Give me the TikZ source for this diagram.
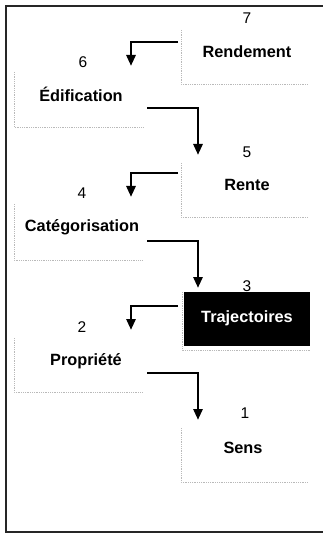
\documentclass[tikz,border=0pt]{standalone}
\usepackage{fontspec}
\setmainfont{Liberation Sans}
\usetikzlibrary{arrows.meta,calc}
\begin{document}
\begin{tikzpicture}[x=1pt,y=-1pt,
  box/.style={inner sep=0pt,outer sep=0pt,minimum width=127pt,minimum height=54pt},
  edge/.style={draw=gray!55,line width=0.9pt,dash pattern=on 1pt off 0.8pt},
  lbl/.style={inner sep=0pt,font=\fontsize{16.3}{19}\selectfont\bfseries},
  num/.style={inner sep=0pt,font=\fontsize{15.5}{18}\selectfont},
  conn/.style={line width=2.7pt,-{Triangle[width=9pt,length=11pt]}},
  frame/.style={line width=1.6pt,draw=black!85}]
\useasboundingbox (0,0) rectangle (323,534);
% frame
\draw[frame] (323,6) -- (6,6) -- (6,532) -- (323,532);
% boxes
\node[box] (r7) at (244.5,57) {};
\node[box,minimum width=129pt,minimum height=55pt] (e6) at (78.5,99.5) {};
\node[box] (r5) at (244.5,190) {};
\node[box,minimum width=129pt,minimum height=56pt] (c4) at (78.5,232) {};
\node[box,fill=black,minimum width=126pt] (t3) at (247,319) {};
\node[box,minimum width=129pt] (p2) at (78.5,365) {};
\node[box] (s1) at (244.5,455) {};
\foreach \b in {r7,e6,r5,c4,p2,s1}
  \draw[edge] (\b.north west) -- (\b.south west) -- (\b.south east);
\draw[edge] ($(t3.north west)+(-2,0)$) -- ($(t3.south west)+(-2,4)$) -- ($(t3.south east)+(0,4)$);
% texts
\node[num] (n7) at (247,18) {7};
\node[lbl] (l7) at (247,52) {Rendement};
\node[num] (n6) at (83,62) {6};
\node[lbl] (l6) at (81,94) {Édification};
\node[num] (n5) at (247,152) {5};
\node[lbl] (l5) at (247,185) {Rente};
\node[num] (n4) at (82,193) {4};
\node[lbl] (l4) at (82,227) {Catégorisation};
\node[num] (n3) at (247,286) {3};
\node[lbl,text=white] (l3) at (247,318) {Trajectoires};
\node[num] (n2) at (82,327) {2};
\node[lbl] (l2) at (86,361) {Propriété};
\node[num] (n1) at (245,413) {1};
\node[lbl] (l1) at (243,448) {Sens};
% connector end points
\coordinate (a1s) at (178,42);  \coordinate (a1e) at (131,66);
\coordinate (a2s) at (147,108); \coordinate (a2e) at (198,155);
\coordinate (a3s) at (178,173); \coordinate (a3e) at (131,197);
\coordinate (a4s) at (147,241); \coordinate (a4e) at (198,288);
\coordinate (a5s) at (178,306); \coordinate (a5e) at (131,330);
\coordinate (a6s) at (147,373); \coordinate (a6e) at (198,420);
\foreach \a in {a1,a2,a3,a4,a5,a6}
  \draw[conn] (\a s) -| (\a e);
\end{tikzpicture}
\end{document}
